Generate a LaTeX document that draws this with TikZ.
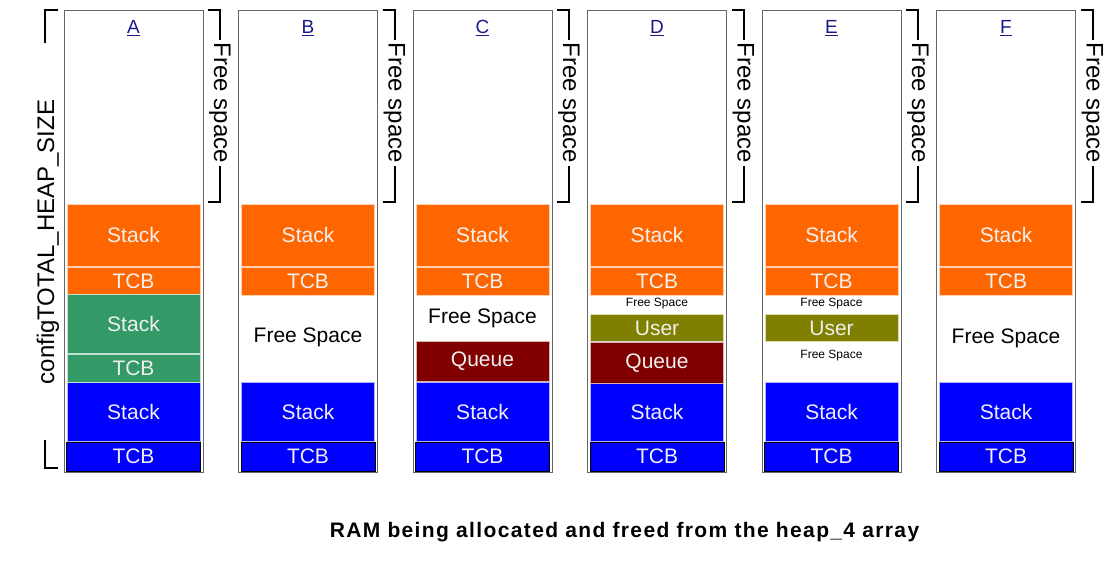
\documentclass[tikz,border=0pt]{standalone}
\usepackage{fontspec}
\setmainfont{Liberation Sans}
\usetikzlibrary{positioning}
\definecolor{stkorange}{HTML}{FF6600}
\definecolor{stkgreen}{HTML}{339966}
\definecolor{stkblue}{HTML}{0000FF}
\definecolor{queuered}{HTML}{800000}
\definecolor{userolive}{HTML}{808000}
\definecolor{tagblue}{HTML}{1A1A8C}
\tikzset{
  heap/.style={draw=gray!80!black, line width=1pt, minimum width=139pt, minimum height=462pt, inner sep=0pt},
  blk/.style={draw=white!70!#1, line width=0.8pt, fill=#1, text=white!94!black, minimum width=133pt,
    inner sep=0pt, anchor=north, font=\fontsize{21}{21}\selectfont},
  tag/.style={text=tagblue, font=\fontsize{19}{19}\selectfont},
  brk/.style={line width=2pt, black},
  fslabel/.style={rotate=-90, inner sep=3pt, font=\fontsize{24}{24}\selectfont},
  freetxt/.style={inner sep=0pt, font=\fontsize{21}{21}\selectfont},
  smallfree/.style={inner sep=0pt, font=\fontsize{12}{12}\selectfont}
}
\begin{document}
\begin{tikzpicture}[x=1pt, y=-1pt]
  \useasboundingbox (0,0) rectangle (1105,573);

  % heap size bracket
  \node[rotate=90, font=\fontsize{24}{24}\selectfont] (heapsize) at (48,242) {configTOTAL\_HEAP\_SIZE};
  \draw[brk, line width=2.5pt] (58,10) -- (45,10) -- (45,43);
  \draw[brk, line width=2.5pt] (45,440) -- (45,468) -- (58,468);

  % common parts of every column
  \foreach \lab/\cx in {A/133.5,B/308,C/482.5,D/657,E/831.5,F/1006}{
    \node[heap] (\lab box) at (\cx,241) {};
    \node[tag] (\lab tag) at (\cx,28) {\underline{\lab}};
    \node[blk=stkorange, minimum height=62pt] (\lab stk1) at (\cx,204) {Stack};
    \node[blk=stkorange, minimum height=28pt, below=0pt of \lab stk1] (\lab tcb1) {TCB};
    \node[blk=stkblue, minimum height=59pt] (\lab stk0) at (\cx,382) {Stack};
    \node[blk=stkblue, draw=black, minimum width=134pt, minimum height=29pt, below=0pt of \lab stk0] (\lab tcb0) {TCB};
    \node[fslabel] (\lab free) at (\cx+86.5,103) {Free space};
    \draw[brk] (\cx+74.5,10) -| (\lab free);
    \draw[brk] (\cx+74.5,202) -| (\lab free);
  }

  % A
  \node[blk=stkgreen, minimum height=59pt] (Astk2) at (133.5,294) {Stack};
  \node[blk=stkgreen, minimum height=28pt, below=0pt of Astk2] (Atcb2) {TCB};
  % B
  \node[freetxt] (Bfs) at (308,337) {Free Space};
  % C
  \node[freetxt] (Cfs) at (482.5,318) {Free Space};
  \node[blk=queuered, minimum height=40pt] (Cque) at (482.5,341) {Queue};
  % D
  \node[smallfree] (Dfs) at (657,304) {Free Space};
  \node[blk=userolive, minimum height=27pt] (Dusr) at (657,314) {User};
  \node[blk=queuered, minimum height=41pt, below=0pt of Dusr] (Dque) {Queue};
  % E
  \node[smallfree] (Efs1) at (831.5,304) {Free Space};
  \node[blk=userolive, minimum height=27pt] (Eusr) at (831.5,314) {User};
  \node[smallfree] (Efs2) at (831.5,356) {Free Space};
  % F
  \node[freetxt] (Ffs) at (1006,338) {Free Space};

  \node[font=\fontsize{21}{21}\bfseries\addfontfeatures{LetterSpace=6.5}] (title) at (624.5,532)
    {RAM being allocated and freed from the heap\_4 array};
\end{tikzpicture}
\end{document}
